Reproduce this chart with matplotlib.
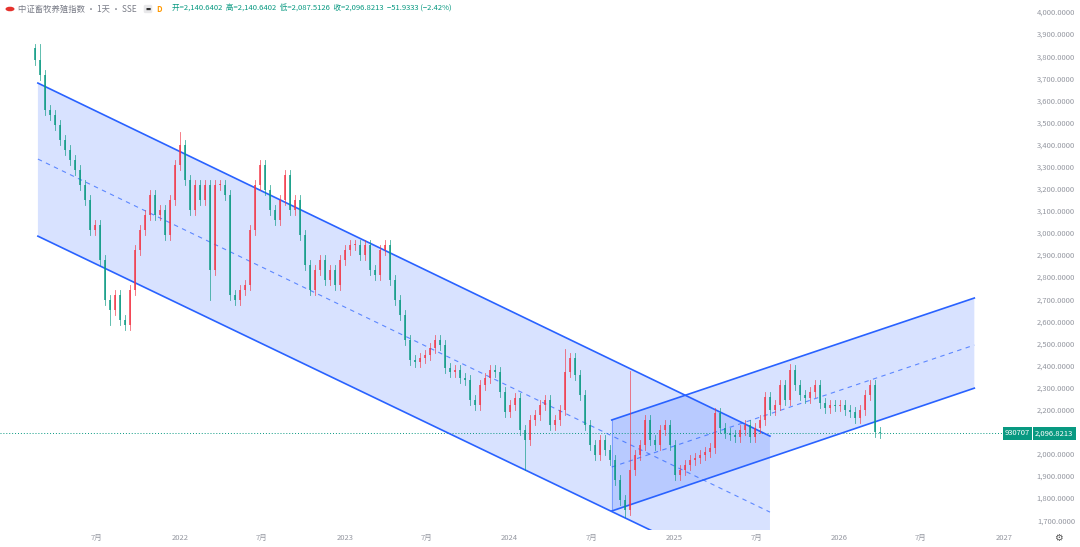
import matplotlib
matplotlib.use("Agg")
import matplotlib.pyplot as plt
import numpy as np
from matplotlib.patches import Rectangle, Polygon, Circle

plt.rcParams['font.family'] = ['Noto Sans CJK SC', 'DejaVu Sans']

# ---- data ----
start_year = 2021.12
step_year = 0.03034
closes = [3787, 3719, 3561, 3538, 3493, 3425, 3380, 3335, 3289, 3221, 3153, 3018, 3040, 2882, 2701, 2655,
          2723, 2610, 2588, 2746, 2927, 3018, 3086, 3176, 3086, 3108, 2995, 3153, 3312, 3403, 3244, 3108,
          3221, 3153, 3221, 2837, 3221, 3221, 3176, 2723, 2701, 2746, 2769, 3018, 3221, 3312, 3199, 3108,
          3063, 3153, 3267, 3108, 3153, 2995, 2859, 2746, 2837, 2882, 2791, 2837, 2769, 2882, 2927, 2950,
          2950, 2904, 2950, 2837, 2814, 2927, 2950, 2791, 2701, 2633, 2520, 2429, 2420, 2438, 2452, 2484,
          2520, 2497, 2393, 2375, 2384, 2348, 2339, 2248, 2225, 2316, 2348, 2384, 2375, 2284, 2194, 2225,
          2257, 2112, 2067, 2158, 2180, 2225, 2248, 2135, 2158, 2203, 2375, 2438, 2361, 2271, 2135, 2044,
          1999, 2067, 2022, 1976, 1886, 1795, 1750, 1931, 1999, 2044, 2158, 2067, 2044, 2112, 2135, 2044,
          1909, 1931, 1954, 1976, 1986, 1999, 2013, 2031, 2189, 2121, 2099, 2090, 2081, 2112, 2135, 2081,
          2121, 2158, 2262, 2203, 2225, 2316, 2248, 2384, 2316, 2271, 2257, 2284, 2316, 2235, 2212, 2225,
          2221, 2225, 2203, 2194, 2167, 2203, 2271, 2316, 2103, 2096.8213]
first_open = 3840
wick = 22
# extra extremes: index -> (high, low)
extremes = {1: (3860, None), 15: (None, 2590), 98: (None, 1931), 118: (None, 1718), 119: (2380, None),
            29: (3460, None), 35: (None, 2700), 106: (2480, None), 151: (2410, None)}

price_ticks = list(range(1700, 4001, 100))
date_ticks = [2021.496, 2022.0, 2022.496, 2023.0, 2023.496, 2024.0, 2024.496, 2025.0, 2025.496,
              2026.0, 2026.496, 2027.0]
date_labels = ['7月', '2022', '7月', '2023', '7月', '2024', '7月', '2025', '7月', '2026', '7月', '2027']

down_x = [2021.138, 2025.58]
down_upper = [3683, 2085]
down_lower = [2990, 1400]
down_mid = [3339, 1741]
up_x = [2024.62, 2026.82]
up_upper = [2158, 2710]
up_lower = [1746, 2302]
up_mid = [1945, 2497]

last_price = 2096.8213

# ---- figure ----
fig = plt.figure(figsize=(10.8, 5.47), dpi=100)
ax = fig.add_axes([0, 1 - 530 / 547, 1003 / 1080, 530 / 547])
ax.set_xlim(2020.908, 2026.994)
ax.set_ylim(1660, 4059)
for s in ax.spines.values():
    s.set_visible(False)
ax.set_xticks([]); ax.set_yticks([])

blue = '#2962ff'
fillc = (0.16, 0.38, 1.0, 0.18)

xb = down_x[0] + (down_x[1] - down_x[0]) * (down_lower[0] - 1600) / (down_lower[0] - down_lower[1])
ax.add_patch(Polygon([(down_x[0], down_upper[0]), (down_x[1], down_upper[1]),
                      (down_x[1], 1600), (xb, 1600), (down_x[0], down_lower[0])],
                     closed=True, facecolor=fillc, edgecolor='none', zorder=1))
ax.plot(down_x, down_upper, color=blue, lw=1.2, zorder=3)
ax.plot(down_x, down_lower, color=blue, lw=1.2, zorder=3)
ax.plot(down_x, down_mid, color=blue, lw=0.8, ls=(0, (4, 4)), alpha=0.7, zorder=3)

ax.add_patch(Polygon([(up_x[0], up_upper[0]), (up_x[1], up_upper[1]), (up_x[1], up_lower[1]), (up_x[0], up_lower[0])],
                     closed=True, facecolor=fillc, edgecolor='none', zorder=1))
ax.plot(up_x, up_upper, color=blue, lw=1.2, zorder=3)
ax.plot(up_x, up_lower, color=blue, lw=1.2, zorder=3)
ax.plot([up_x[0], up_x[0]], [up_lower[0], up_upper[0]], color=blue, lw=0.6, alpha=0.5, zorder=3)
ax.plot(up_x, up_mid, color=blue, lw=0.8, ls=(0, (4, 4)), alpha=0.7, zorder=3)

# candles
up_c, dn_c = '#f23645', '#089981'
n = len(closes)
xs = start_year + np.arange(n) * step_year
bw = step_year * 0.45
prev = first_open
for i, c in enumerate(closes):
    o = prev
    hi = max(o, c) + wick
    lo = min(o, c) - wick
    if i in extremes:
        h2, l2 = extremes[i]
        if h2 is not None: hi = h2
        if l2 is not None: lo = l2
    col = up_c if c >= o else dn_c
    ax.plot([xs[i], xs[i]], [lo, hi], color=col, lw=0.6, alpha=0.75, zorder=4)
    ax.add_patch(Rectangle((xs[i] - bw / 2, min(o, c)), bw, max(abs(c - o), 3), facecolor=col,
                           edgecolor='none', alpha=0.75, zorder=5))
    prev = c

ax.axhline(last_price, color=dn_c, lw=0.7, ls=(0, (1, 2)), zorder=2)

for p in price_ticks:
    fig.text(1075 / 1080, ax.transData.transform((0, p))[1] / fig.bbox.height, f'{p:,.4f}',
             ha='right', va='center', fontsize=5.5, color='#9598a1')
yl = ax.transData.transform((0, last_price))[1] / fig.bbox.height
fig.text(1035 / 1080, yl, '2,096.8213', ha='left', va='center', fontsize=5.5, color='white',
         bbox=dict(boxstyle='square,pad=0.3', fc=dn_c, ec='none'))
fig.text(1030 / 1080, yl, '930707', ha='right', va='center', fontsize=5.5, color='white',
         bbox=dict(boxstyle='square,pad=0.3', fc=dn_c, ec='none'))

for d, lab in zip(date_ticks, date_labels):
    fx = ax.transData.transform((d, 0))[0] / fig.bbox.width
    fig.text(fx, 1 - 538 / 547, lab, ha='center', va='center', fontsize=5.5, color='#9598a1')
fig.text(1058 / 1080, 1 - 538 / 547, '⚙', ha='center', va='center', fontsize=7, color='#555555',
         family=['DejaVu Sans'])

# header
fig.patches.append(Circle((10 / 1080, 1 - 9 / 547), 4.5 / 1080, transform=fig.transFigure,
                          facecolor='#e5322d', edgecolor='none'))
fig.text(18 / 1080, 1 - 9 / 547, '中证畜牧养殖指数 · 1天 · SSE', ha='left', va='center', fontsize=6, color='#787b86')
fig.text(148 / 1080, 1 - 9 / 547, '▬', ha='center', va='center', fontsize=4, color='#333333',
         bbox=dict(boxstyle='round,pad=0.3', fc='#e8e8ea', ec='none'))
fig.text(156 / 1080, 1 - 9 / 547, 'D', ha='left', va='center', fontsize=5.5, color='#ff9800', weight='bold')
fig.text(172 / 1080, 1 - 9 / 547, '开=2,140.6402  高=2,140.6402  低=2,087.5126  收=2,096.8213  −51.9333 (−2.42%)',
         ha='left', va='center', fontsize=5.5, color=dn_c)

fig.savefig('out.png', dpi=100, facecolor='white')
